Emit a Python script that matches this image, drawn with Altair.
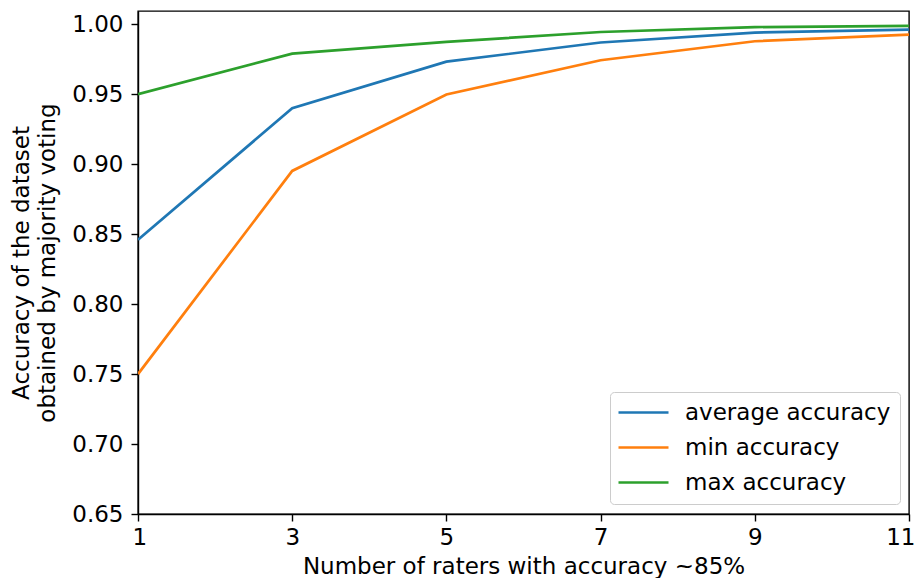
import altair as alt
import pandas as pd

raters = [1, 3, 5, 7, 9, 11]
avg_acc = [0.846, 0.940, 0.9733, 0.987, 0.9941, 0.9962]
min_acc = [0.750, 0.8952, 0.9498, 0.9743, 0.9879, 0.9926]
max_acc = [0.950, 0.979, 0.9874, 0.9945, 0.998, 0.9988]
series = ["average accuracy", "min accuracy", "max accuracy"]
colors = ["#1f77b4", "#ff7f0e", "#2ca02c"]
x_ticks = [1, 3, 5, 7, 9, 11]
y_ticks = [0.65, 0.70, 0.75, 0.80, 0.85, 0.90, 0.95, 1.00]

rows = []
for name, vals in zip(series, [avg_acc, min_acc, max_acc]):
    for r, v in zip(raters, vals):
        rows.append({"raters": r, "acc": v, "series": name})
df = pd.DataFrame(rows)

font = "DejaVu Sans"
fs = 23

chart = alt.Chart(df).mark_line(strokeWidth=2.7, clip=True).encode(
    x=alt.X("raters:Q", scale=alt.Scale(domain=[1, 11], nice=False, zero=False),
            axis=alt.Axis(values=x_ticks, title="Number of raters with accuracy ~85%",
                          grid=False, format="d", labelFlush=True, labelFlushOffset=6)),
    y=alt.Y("acc:Q", scale=alt.Scale(domain=[0.65, 1.0095], nice=False, zero=False),
            axis=alt.Axis(values=y_ticks, format=".2f", grid=False,
                          title=["Accuracy of the dataset", "obtained by majority voting"])),
    color=alt.Color("series:N", scale=alt.Scale(domain=series, range=colors),
                    legend=alt.Legend(title=None, orient="none", legendX=472, legendY=381,
                                      symbolType="M-2.5,0H2.5", symbolSize=400,
                                      symbolStrokeWidth=2.7, symbolOffset=13,
                                      labelFontSize=fs, labelFont=font, labelOffset=30,
                                      rowPadding=11, padding=9, strokeColor="#cccccc",
                                      cornerRadius=4, fillColor="white",
                                      labelColor="#000000", labelLimit=400)),
).properties(
    width=771, height=503,
    autosize=alt.AutoSizeParams(type="none"),
    padding={"left": 130, "top": 3, "right": 6, "bottom": 64},
).configure_view(
    stroke="black", strokeWidth=1.4
).configure_axis(
    domainColor="black", domainWidth=1.4, tickColor="black", tickWidth=1.4, tickSize=7,
    labelFont=font, labelFontSize=fs, labelColor="black",
    titleFont=font, titleFontSize=fs, titleColor="black", titleFontWeight="normal",
).configure_axisY(
    labelPadding=8, titlePadding=12, titleLineHeight=26
).configure_axisX(
    labelPadding=5, titlePadding=6
)

chart.save("out.html", embed_options={"renderer": "svg", "actions": False})
